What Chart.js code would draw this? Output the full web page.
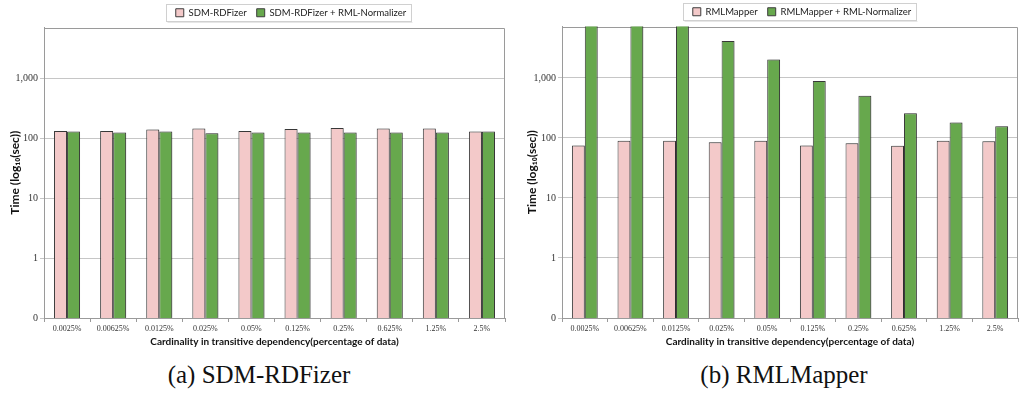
<!DOCTYPE html>
<html>
<head>
<meta charset="utf-8">
<script src="https://cdn.jsdelivr.net/npm/chart.js@4/dist/chart.umd.min.js"></script>
<style>
  html, body { margin: 0; padding: 0; background: #fff; }
  body { width: 1019px; height: 398px; position: relative; overflow: hidden; }
  .panel { position: absolute; top: 0; }
  #chartA { left: 0; }
  #chartB { left: 510px; }
  .cap {
    position: absolute; top: 361px; line-height: 28px;
    font-family: "Liberation Serif", serif; font-size: 25px; color: #111;
    white-space: nowrap; transform: translateX(-50%) scaleY(1.05);
  }
</style>
</head>
<body>
<canvas id="chartA" class="panel" width="510" height="352"></canvas>
<canvas id="chartB" class="panel" width="509" height="352"></canvas>
<div class="cap" style="left:259px">(a) SDM-RDFizer</div>
<div class="cap" style="left:784px">(b) RMLMapper</div>

<script>
// Cardinality levels on the x axis
const categories = ['0.0025%', '0.00625%', '0.0125%', '0.025%', '0.05%',
                    '0.125%', '0.25%', '0.625%', '1.25%', '2.5%'];

// Execution time in seconds
const sdmRdfizer     = [134, 134, 142, 147, 134, 145, 151, 147, 147, 131];
const sdmRdfizerNorm = [131, 126, 131, 123, 126, 126, 126, 126, 126, 131];
const rmlMapper      = [75, 90, 90, 85, 90, 75, 82, 74, 90, 88];
const rmlMapperNorm  = [12000, 12000, 12000, 4120, 2030, 891, 506, 259, 181, 157];

// Decade ticks of the log axis and their printed labels
const yTickValues = [0.1, 1, 10, 100, 1000];
const yTickLabels = ['0', '1', '10', '100', '1,000'];
const yMax = 7200;

const pinkFill = '#f3c9c9';
const greenFill = '#67a84d';
const barEdge = '#3c3c3c';
const axisGray = '#9a9a9a';

// Moves the legend row to a given centre and frames it with a thin box
const legendFrame = {
  id: 'legendFrame',
  afterLayout(chart, args, opts) {
    const lg = chart.legend;
    if (!lg) return;
    const dx = opts.center - (lg.left + lg.right) / 2;
    lg.left += dx;
    lg.right += dx;
  },
  afterDraw(chart) {
    const lg = chart.legend;
    if (!lg || !lg.legendHitBoxes || !lg.legendHitBoxes.length) return;
    const boxes = lg.legendHitBoxes;
    const x0 = Math.min(...boxes.map(b => b.left)) - 10;
    const x1 = Math.max(...boxes.map(b => b.left + b.width)) + 5;
    const cy = boxes[0].top + boxes[0].height / 2;
    const ctx = chart.ctx;
    ctx.save();
    ctx.strokeStyle = '#d0d0d0';
    ctx.lineWidth = 1;
    ctx.strokeRect(Math.round(x0) + 0.5, Math.round(cy - 8.5) + 0.5, Math.round(x1 - x0), 17);
    ctx.strokeStyle = '#e6e6e6';
    ctx.beginPath();
    ctx.moveTo(Math.round(x0) + 1.5, Math.round(cy + 8.5) + 1.5);
    ctx.lineTo(Math.round(x1) + 1.5, Math.round(cy + 8.5) + 1.5);
    ctx.stroke();
    ctx.restore();
  }
};

// Top and right edges of the plot area
const plotFrame = {
  id: 'plotFrame',
  beforeDatasetsDraw(chart) {
    const a = chart.chartArea;
    const ctx = chart.ctx;
    ctx.save();
    ctx.strokeStyle = axisGray;
    ctx.lineWidth = 1;
    ctx.beginPath();
    ctx.moveTo(Math.round(a.left) + 0.5, Math.round(a.top) + 0.5);
    ctx.lineTo(Math.round(a.right) - 0.5, Math.round(a.top) + 0.5);
    ctx.lineTo(Math.round(a.right) - 0.5, Math.round(a.bottom) + 0.5);
    ctx.stroke();
    ctx.restore();
  }
};

// Soft drop shadow behind the bars
const barShadow = {
  id: 'barShadow',
  beforeDatasetsDraw(chart) {
    const ctx = chart.ctx;
    ctx.save();
    ctx.shadowColor = 'rgba(0,0,0,0.22)';
    ctx.shadowBlur = 2;
    ctx.shadowOffsetX = 1.5;
    ctx.shadowOffsetY = 0;
  },
  afterDatasetsDraw(chart) {
    chart.ctx.restore();
  }
};

function buildChart(canvasId, names, series, geo) {
  return new Chart(document.getElementById(canvasId), {
    type: 'bar',
    data: {
      labels: categories,
      datasets: [
        { label: names[0], data: series[0], backgroundColor: pinkFill,
          borderColor: barEdge, borderWidth: 1 },
        { label: names[1], data: series[1], backgroundColor: greenFill,
          borderColor: barEdge, borderWidth: 1 }
      ]
    },
    options: {
      responsive: false,
      animation: false,
      devicePixelRatio: 1,
      categoryPercentage: 0.565,
      barPercentage: 1,
      layout: { padding: { top: geo.top, right: geo.right, left: 0, bottom: 0 } },
      plugins: {
        legend: {
          position: 'top',
          labels: {
            boxWidth: 8, boxHeight: 8, padding: 10, color: '#222',
            font: { family: 'Lato', size: 9.5 }
          }
        },
        tooltip: { enabled: false },
        legendFrame: { center: geo.legendCenter }
      },
      scales: {
        x: {
          grid: { offset: true, drawOnChartArea: false, tickLength: 4, color: axisGray },
          border: { color: axisGray },
          ticks: {
            padding: 2, color: '#333', maxRotation: 0, autoSkip: false,
            font: { family: 'Liberation Serif', size: 8 }
          },
          title: {
            display: true,
            text: 'Cardinality in transitive dependency(percentage of data)',
            color: '#111', padding: { top: 2, bottom: 4 },
            font: { family: 'Lato', size: 10, weight: 'bold' }
          },
          afterFit(s) { s.height = 34; }
        },
        y: {
          type: 'logarithmic',
          min: 0.1,
          max: yMax,
          afterBuildTicks(s) { s.ticks = yTickValues.map(v => ({ value: v })); },
          ticks: {
            callback: (v, i) => yTickLabels[i],
            padding: 2, color: '#333',
            font: { family: 'Liberation Serif', size: 10 }
          },
          grid: { color: '#c6c6c6', tickLength: 4 },
          border: { color: axisGray },
          title: {
            display: true,
            text: 'Time (log₁₀(sec))',
            color: '#111', padding: { top: geo.titlePad, bottom: 0 },
            font: { family: 'Lato', size: 12, weight: 'bold' }
          },
          afterFit(s) { s.width = geo.axisWidth; }
        }
      }
    },
    plugins: [legendFrame, plotFrame, barShadow]
  });
}

buildChart('chartA', ['SDM-RDFizer', 'SDM-RDFizer + RML-Normalizer'],
  [sdmRdfizer, sdmRdfizerNorm],
  { top: -2, right: 5, axisWidth: 44, titlePad: 8, legendCenter: 291 });

buildChart('chartB', ['RMLMapper', 'RMLMapper + RML-Normalizer'],
  [rmlMapper, rmlMapperNorm],
  { top: -3, right: 1, axisWidth: 52, titlePad: 15, legendCenter: 292 });
</script>
</body>
</html>
